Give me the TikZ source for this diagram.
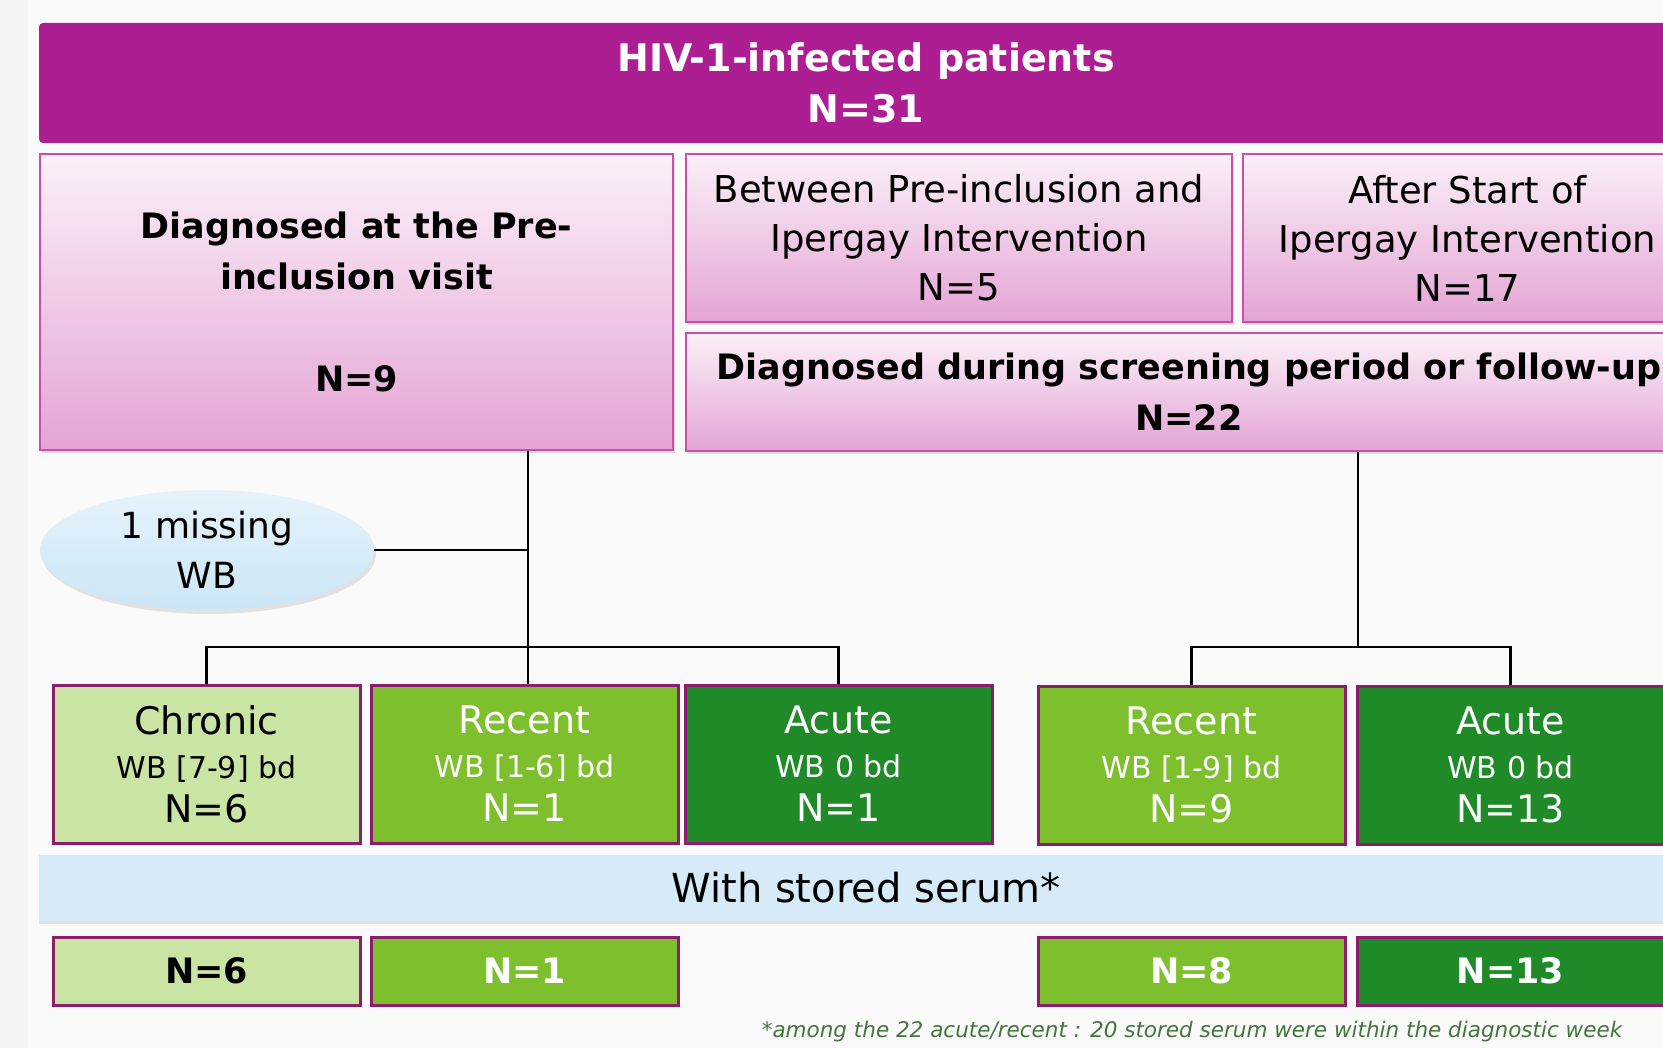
\documentclass[tikz,border=0pt]{standalone}
\usepackage{fontspec}
\setmainfont{DejaVu Sans}
\usetikzlibrary{shapes.geometric,shadows}

\definecolor{hivbar}{RGB}{172,30,145}
\definecolor{pinktop}{RGB}{251,240,248}
\definecolor{pinkbot}{RGB}{228,164,212}
\definecolor{pinkline}{RGB}{200,80,172}
\definecolor{chronicgreen}{RGB}{202,228,164}
\definecolor{recentgreen}{RGB}{126,191,46}
\definecolor{acutegreen}{RGB}{32,138,40}
\definecolor{greenline}{RGB}{140,28,108}
\definecolor{serumblue}{RGB}{214,234,248}
\definecolor{missblue}{RGB}{204,230,246}
\definecolor{notegreen}{RGB}{66,118,58}

\tikzset{
  % boxes of the upper part
  hivbox/.style={fill=hivbar, rounded corners=4pt, text=white, inner sep=0pt,
    align=center, font=\bfseries\fontsize{38}{51}\selectfont},
  pinkbox/.style={draw=pinkline, line width=2.5pt, top color=pinktop, bottom color=pinkbot,
    inner sep=0pt, align=center, font=\fontsize{37}{49}\selectfont,
    drop shadow={shadow xshift=2pt, shadow yshift=-3pt, opacity=0.25}},
  missbox/.style={ellipse, top color=missblue!50, bottom color=missblue, inner sep=0pt,
    minimum width=334pt, minimum height=120pt, align=center,
    font=\fontsize{36}{50}\selectfont,
    drop shadow={shadow xshift=2pt, shadow yshift=-4pt, opacity=0.2}},
  % boxes of the lower part
  catbox/.style={draw=greenline, line width=3pt, inner sep=0pt, align=center,
    minimum width=307pt, font=\fontsize{38}{44}\selectfont},
  chronicbox/.style={catbox, fill=chronicgreen, text=black},
  recentbox/.style={catbox, fill=recentgreen, text=white},
  acutebox/.style={catbox, fill=acutegreen, text=white},
  link/.style={line width=2.5pt, black}
}

\newcommand{\catlabel}[3]{#1\\{\fontsize{30}{44}\selectfont #2}\\#3}

\begin{document}
\begin{tikzpicture}[x=1pt,y=1pt,yscale=-1]
\useasboundingbox (0,0) rectangle (1663,1048);
\clip (0,0) rectangle (1663,1048);
%Background
\fill[fill={rgb,255:red,250;green,250;blue,251}] (0,0) rectangle (1663,1048);
\fill[fill={rgb,255:red,243;green,244;blue,246}] (0,0) rectangle (28,1048);

%Shape: Rectangle, top bar
\node[hivbox, minimum width=1654pt, minimum height=120pt] (hiv) at (866,83) {HIV-1-infected patients\\N=31};

%Shape: Rectangle, time of diagnosis
\node[pinkbox, font=\bfseries\fontsize{35}{51}\selectfont, minimum width=633pt, minimum height=296pt] (preinc) at (356.5,302) {Diagnosed at the Pre-\\inclusion visit\\[51pt]N=9};
\node[pinkbox, minimum width=546pt, minimum height=168pt] (between) at (959,238) {Between Pre-inclusion and\\Ipergay Intervention\\N=5};
\node[pinkbox, minimum width=449pt, minimum height=168pt] (after) at (1467.5,238) {After Start of\\Ipergay Intervention\\N=17};
\node[pinkbox, font=\bfseries\fontsize{35}{51}\selectfont, minimum width=1006pt, minimum height=118pt] (during) at (1189,392) {Diagnosed during screening period or follow-up\\N=22};

%Shape: Ellipse
\node[missbox] (missing) at (207,550) {1 missing\\WB};

%Shape: Rectangle, western blot results
\node[chronicbox, minimum height=158pt] (chronic) at (206.5,764) {\catlabel{Chronic}{WB [7-9] bd}{N=6}};
\node[recentbox, minimum height=158pt] (recentA) at (524.5,764) {\catlabel{Recent}{WB [1-6] bd}{N=1}};
\node[acutebox, minimum height=158pt] (acuteA) at (838.5,764) {\catlabel{Acute}{WB 0 bd}{N=1}};
\node[recentbox, minimum height=158pt] (recentB) at (1191.5,765) {\catlabel{Recent}{WB [1-9] bd}{N=9}};
\node[acutebox, minimum height=158pt] (acuteB) at (1510.5,765) {\catlabel{Acute}{WB 0 bd}{N=13}};

%Shape: Rectangle, stored serum
\node[fill=serumblue, minimum width=1654pt, minimum height=66pt, inner sep=0pt,
  font=\fontsize{40}{44}\selectfont,
  drop shadow={shadow xshift=0pt, shadow yshift=-3pt, opacity=0.2}] (serum) at (866,888) {With stored serum*};

\node[chronicbox, minimum height=68pt, font=\bfseries\fontsize{35}{40}\selectfont] (chronicS) at (206.5,971) {N=6};
\node[recentbox, minimum height=68pt, font=\bfseries\fontsize{35}{40}\selectfont] (recentAS) at (524.5,971) {N=1};
\node[recentbox, minimum height=68pt, font=\bfseries\fontsize{35}{40}\selectfont] (recentBS) at (1191.5,971) {N=8};
\node[acutebox, minimum height=68pt, font=\bfseries\fontsize{35}{40}\selectfont] (acuteBS) at (1510.5,971) {N=13};

% Text Node
\node[text=notegreen, font=\itshape\fontsize{21.5}{24}\selectfont] (note) at (1192,1032) {*among the 22 acute/recent : 20 stored serum were within the diagnostic week};

%Straight Lines
\coordinate (splitL) at (528,647);
\coordinate (splitR) at (1358,647);
\draw[link] (preinc.south -| splitL) -- (splitL |- recentA.north);
\draw[link] (missing.east) -- (missing.east -| splitL);
\draw[link] (chronic.north) |- (splitL) -| (acuteA.north);
\draw[link] (during.south -| splitR) -- (splitR);
\draw[link] (recentB.north) |- (splitR) -| (acuteB.north);

\end{tikzpicture}
\end{document}
